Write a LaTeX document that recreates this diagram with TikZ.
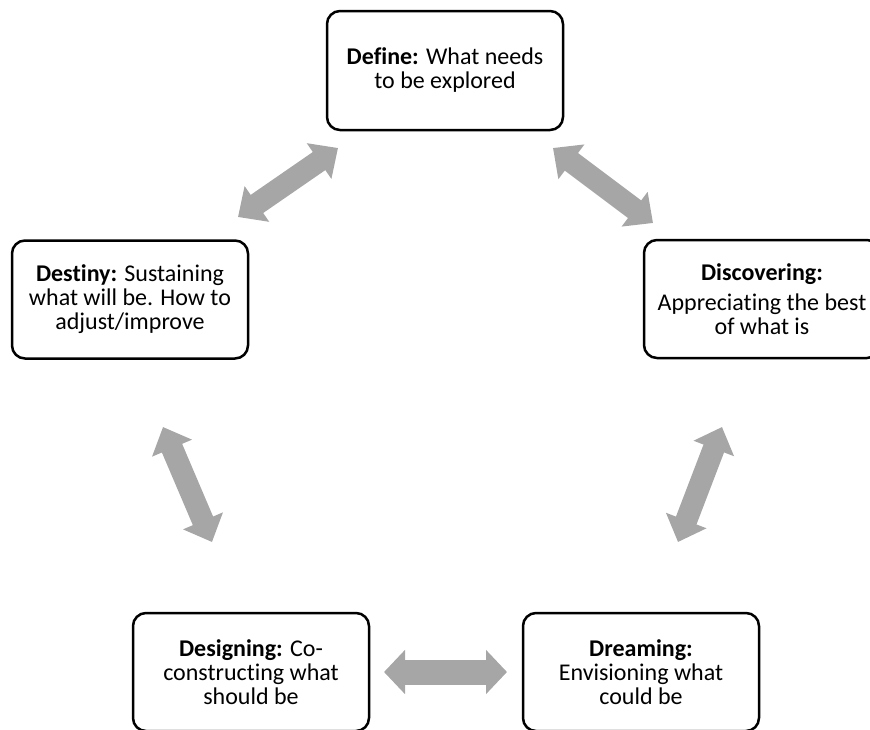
\documentclass[tikz,border=0pt]{standalone}
\usepackage{fontspec}
\setmainfont{Carlito}[Ligatures={NoCommon,NoContextual}]
\usepackage{xcolor}
\usetikzlibrary{arrows.meta}

\definecolor{linkgray}{HTML}{A6A6A6}

\tikzset{
  phase/.style={draw, line width=2.5pt, rounded corners=13pt, align=center,
    minimum width=236pt, minimum height=118pt, inner sep=0pt,
    font=\fontsize{24}{24}\selectfont},
  link/.style={linkgray, line width=22pt,
    {Triangle[width=42pt, length=23pt]}-{Triangle[width=42pt, length=23pt]}}
}

\begin{document}
\begin{tikzpicture}[x=1pt, y=-1pt]
        \useasboundingbox (0,0) rectangle (870,729);
        \clip (0,0) rectangle (870,729);
        % Phases
        \node[phase, minimum height=119pt] (define) at (445,70.5)
          {\textbf{Define:} What needs\\to be explored};
        \node[phase] (destiny) at (130,299.5)
          {\textbf{Destiny:} Sustaining\\what will be. How to\\adjust/improve};
        \node[phase] (discovering) at (762,299)
          {\textbf{Discovering:}\\[6pt]Appreciating the best\\of what is};
        \node[phase] (designing) at (251,672)
          {\textbf{Designing:} Co-\\constructing what\\should be};
        \node[phase] (dreaming) at (641,672)
          {\textbf{Dreaming:}\\Envisioning what\\could be};
        % Link ends
        \coordinate (defL) at (338,148);
        \coordinate (desT) at (238,217);
        \coordinate (defR) at (553,148);
        \coordinate (disT) at (653,223);
        \coordinate (desB) at (163,427);
        \coordinate (dsgT) at (212,542);
        \coordinate (disB) at (722,427);
        \coordinate (drmT) at (678,542);
        \coordinate (dsgR) at (384,672);
        \coordinate (drmL) at (507,672);
        % Links
        \draw[link] (defL) -- (desT);
        \draw[link] (defR) -- (disT);
        \draw[link] (desB) -- (dsgT);
        \draw[link] (disB) -- (drmT);
        \draw[link, line width=25pt,
          {Triangle[width=43pt, length=21pt]}-{Triangle[width=43pt, length=21pt]}] (dsgR) -- (drmL);
    \end{tikzpicture}
\end{document}
